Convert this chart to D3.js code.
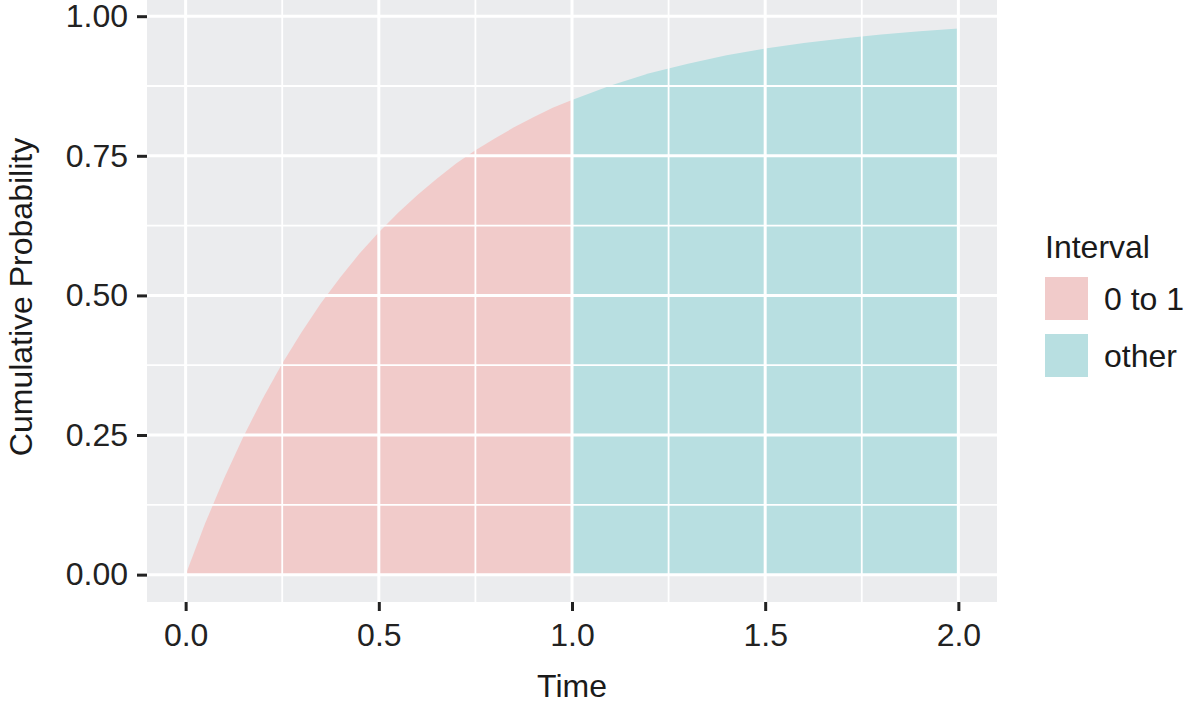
<!DOCTYPE html>
<html><head><meta charset="utf-8">
<script src="https://cdn.jsdelivr.net/npm/d3@7"></script>
<style>body{margin:0;background:#fff}svg{display:block}text{font-family:"Liberation Sans",Arial,sans-serif}</style>
</head><body>
<svg id="c" width="1186" height="706"></svg>
<script>
const timeA = [0,0.05,0.1,0.15,0.2,0.25,0.3,0.35,0.4,0.45,0.5,0.55,0.6,0.65,0.7,0.75,0.8,0.85,0.9,0.95,1.0];
const probA = [0,0.091,0.173,0.248,0.316,0.378,0.434,0.486,0.532,0.575,0.613,0.648,0.680,0.709,0.736,0.760,0.781,0.801,0.819,0.836,0.850];
const timeB = [1.0,1.1,1.2,1.3,1.4,1.5,1.6,1.7,1.8,1.9,2.0];
const probB = [0.850,0.876,0.898,0.915,0.930,0.942,0.952,0.960,0.967,0.973,0.978];
const intervals = ["0 to 1","other"];
const colors = ["#F1CBCA","#B8DFE1"];
const xTicks = [0,0.5,1,1.5,2];
const xMinor = [0.25,0.75,1.25,1.75];
const yTicks = [0,0.25,0.5,0.75,1];
const yMinor = [0.125,0.375,0.625,0.875];

const svg = d3.select("#c");
const L=147,R=997,T=0,B=602;
const FS="32px";
const x = d3.scaleLinear().domain([-0.1,2.1]).range([L,R]);
const y = d3.scaleLinear().domain([-0.049,1.029]).range([B,T]);

svg.append("rect").attr("x",L).attr("y",T).attr("width",R-L).attr("height",B-T).attr("fill","#EBECEE");

const area = d3.area().x(d=>x(d[0])).y0(y(0)).y1(d=>y(d[1]));
const series = [d3.zip(timeA,probA), d3.zip(timeB,probB)];
series.forEach((s,i)=>svg.append("path").attr("d",area(s)).attr("fill",colors[i]));

const g = svg.append("g");
xMinor.forEach(v=>g.append("line").attr("x1",x(v)).attr("x2",x(v)).attr("y1",T).attr("y2",B).attr("stroke","#fff").attr("stroke-width",1.8));
yMinor.forEach(v=>g.append("line").attr("y1",y(v)).attr("y2",y(v)).attr("x1",L).attr("x2",R).attr("stroke","#fff").attr("stroke-width",1.8));
xTicks.forEach(v=>g.append("line").attr("x1",x(v)).attr("x2",x(v)).attr("y1",T).attr("y2",B).attr("stroke","#fff").attr("stroke-width",3));
yTicks.forEach(v=>g.append("line").attr("y1",y(v)).attr("y2",y(v)).attr("x1",L).attr("x2",R).attr("stroke","#fff").attr("stroke-width",3));

const xAxis = d3.axisBottom(x).tickValues(xTicks).tickFormat(d3.format(".1f")).tickSize(9).tickPadding(12);
const ax = svg.append("g").attr("transform",`translate(0,${B})`).call(xAxis);
const yAxis = d3.axisLeft(y).tickValues(yTicks).tickFormat(d3.format(".2f")).tickSize(10).tickPadding(9);
const ay = svg.append("g").attr("transform",`translate(${L},0)`).call(yAxis);
[ax,ay].forEach(a=>{
  a.select(".domain").remove();
  a.selectAll(".tick line").attr("stroke","#222").attr("stroke-width",3);
  a.selectAll(".tick text").attr("fill","#222").style("font-size",FS).style("font-family","'Liberation Sans',Arial,sans-serif");
});

svg.append("text").attr("x",(L+R)/2).attr("y",697).attr("text-anchor","middle").attr("fill","#1a1a1a").style("font-size",FS).text("Time");
svg.append("text").attr("transform",`translate(32,${(T+B)/2-4}) rotate(-90)`).attr("text-anchor","middle").attr("fill","#1a1a1a").style("font-size",FS).text("Cumulative Probability");

const lg = svg.append("g");
lg.append("text").attr("x",1045).attr("y",258).attr("fill","#1a1a1a").style("font-size",FS).text("Interval");
intervals.forEach((n,i)=>{
  const yy = 277 + i*57;
  lg.append("rect").attr("x",1045).attr("y",yy).attr("width",43).attr("height",43).attr("fill",colors[i]);
  lg.append("text").attr("x",1104).attr("y",yy+21.5).attr("dy","0.36em").attr("fill","#1a1a1a").style("font-size",FS).text(n);
});
</script>
</body></html>
